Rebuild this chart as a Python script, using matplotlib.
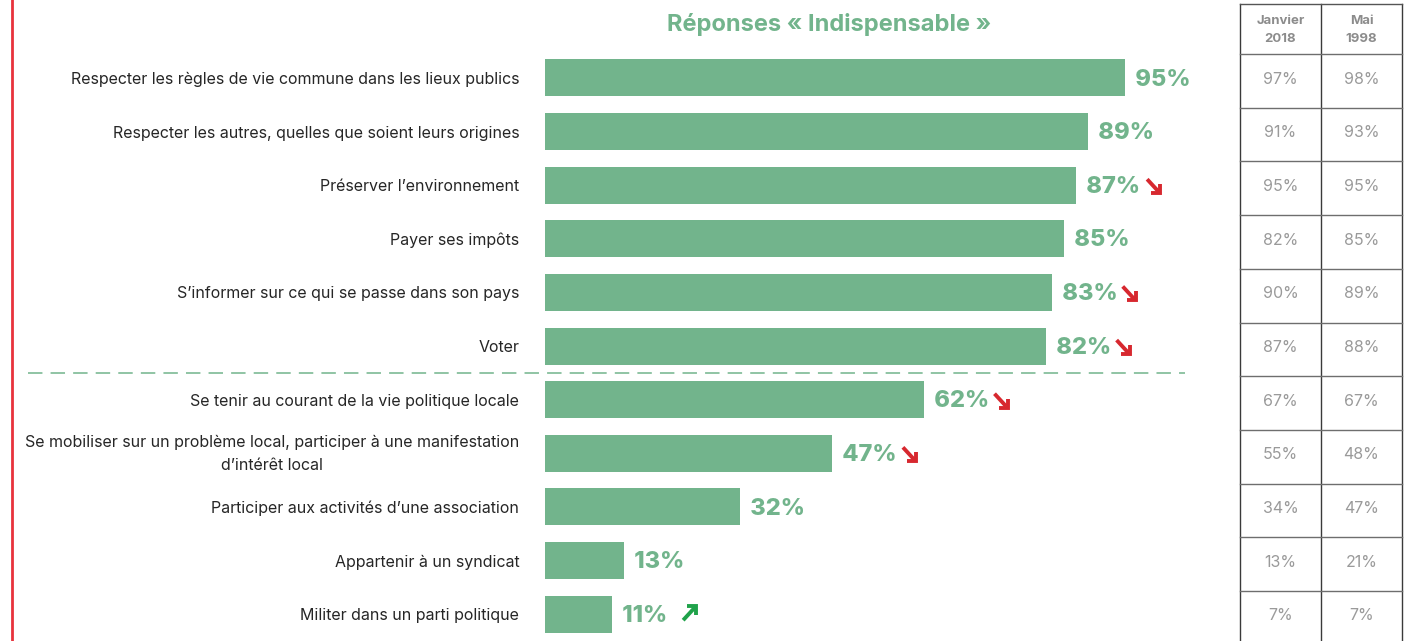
import matplotlib
matplotlib.use('Agg')
from matplotlib import pyplot as plt
from matplotlib import transforms
import numpy as np

plt.rcParams['font.family'] = ['Inter', 'DejaVu Sans']

# chart data
categories = [
    "Respecter les règles de vie commune dans les lieux publics",
    "Respecter les autres, quelles que soient leurs origines",
    "Préserver l\u2019environnement",
    "Payer ses impôts",
    "S\u2019informer sur ce qui se passe dans son pays",
    "Voter",
    "Se tenir au courant de la vie politique locale",
    "Se mobiliser sur un problème local, participer à une manifestation\nd\u2019intérêt local",
    "Participer aux activités d\u2019une association",
    "Appartenir à un syndicat",
    "Militer dans un parti politique",
]
values = [95, 89, 87, 85, 83, 82, 62, 47, 32, 13, 11]
trend = [0, 0, -1, 0, -1, -1, -1, -1, 0, 0, 1]   # -1 down, 1 up
jan_2018 = [97, 91, 95, 82, 90, 87, 67, 55, 34, 13, 7]
mai_1998 = [98, 93, 95, 85, 89, 88, 67, 48, 47, 21, 7]
col_headers = ["Janvier\n2018", "Mai\n1998"]
title = "Réponses « Indispensable »"

GREEN = '#72b48c'
RED = '#d7282f'
UP_GREEN = '#1fa24a'
W, H = 1414, 641

fig = plt.figure(figsize=(W / 100, H / 100), dpi=100)

# bar axes: left edge at 545 px, 100 % = 610.5 px, rows 53.7 px apart
row_h = 53.7
top_px = 78 - row_h / 2
ax = fig.add_axes([545 / W, 0, 610.5 / W, (H - top_px) / H])
n = len(values)
y = np.arange(n)
ax.barh(y, values, height=0.69, color=GREEN)
ax.set_xlim(0, 100)
ax.set_ylim(n - 0.5, -0.5)
ax.set_yticks(y)
ax.set_yticklabels(categories, fontsize=11.5, color='#262626',
                   multialignment='center', linespacing=1.7)
ax.tick_params(axis='y', length=0, pad=18.5)
ax.set_xticks([])
for s in ax.spines.values():
    s.set_visible(False)
# the two-line label sits a little high in the original
lab = ax.get_yticklabels()[7]
lab.set_transform(lab.get_transform() +
                  transforms.ScaledTranslation(0, 3.5 / 72, fig.dpi_scale_trans))

to_fig = fig.transFigure.inverted()


def arrow(px, py, up, col):
    # px, py: display coords of the bar end; bold diagonal arrow with a
    # square corner head, like the trend glyphs of the original
    if up:
        x0, y0, x1, y1 = px + 71, py - 6, px + 84, py + 8
        head = [(x1 - 9, y1), (x1, y1), (x1, y1 - 9)]
        tip = (x1 - 1.5, y1 - 1.5)
    else:
        x0, y0, x1, y1 = px + 71, py + 6, px + 84, py - 8
        head = [(x1 - 9, y1), (x1, y1), (x1, y1 + 9)]
        tip = (x1 - 1.5, y1 + 1.5)
    shaft = to_fig.transform([(x0, y0), tip])
    hd = to_fig.transform(head)
    fig.add_artist(plt.Line2D(shaft[:, 0], shaft[:, 1], color=col, lw=2.8,
                              solid_capstyle='butt'))
    fig.add_artist(plt.Line2D(hd[:, 0], hd[:, 1], color=col, lw=2.8,
                              solid_capstyle='butt', solid_joinstyle='miter'))


for i, v in enumerate(values):
    ax.text(v, i + 0.03, f"  {v}%", va='center', ha='left', fontsize=17,
            fontweight='heavy', color=GREEN, clip_on=False)
    if trend[i] != 0:
        px, py = ax.transData.transform((v, i))
        arrow(px, py, trend[i] > 0, RED if trend[i] < 0 else UP_GREEN)

# separator between the two groups
fig.add_artist(plt.Line2D([28 / W, 1185 / W], [1 - 373 / H] * 2, color=GREEN,
                          lw=1.3, linestyle=(0, (8, 4.5)), alpha=0.85))

fig.text(829 / W, 1 - 24 / H, title, ha='center', va='center', fontsize=17,
         fontweight='bold', color=GREEN)

# red rule on the left
fig.add_artist(plt.Line2D([12 / W] * 2, [0, 1], color='#e8323c', lw=2))

# comparison table
xs = [1240, 1321, 1402]
tab_top = 4
head_bot = 54
for xv in xs:
    fig.add_artist(plt.Line2D([xv / W] * 2, [0, 1 - tab_top / H], color='#3a3a3a', lw=1))
fig.add_artist(plt.Line2D([xs[0] / W, xs[-1] / W], [1 - tab_top / H] * 2, color='#555555', lw=1))
for k in range(n + 1):
    yy = head_bot + k * row_h
    if yy < H:
        fig.add_artist(plt.Line2D([xs[0] / W, xs[-1] / W], [1 - yy / H] * 2,
                                  color='#6e6e6e', lw=1))
cx = [(xs[0] + xs[1]) / 2, (xs[1] + xs[2]) / 2]
for c, hdr in enumerate(col_headers):
    fig.text(cx[c] / W, 1 - 30 / H, hdr, ha='center', va='center', fontsize=9.5,
             fontweight='bold', color='#8c8c8c', linespacing=1.65)
for i in range(n):
    yc = 1 - (79 + i * row_h) / H
    fig.text(cx[0] / W, yc, f"{jan_2018[i]}%", ha='center', va='center',
             fontsize=11.5, color='#9a9a9a')
    fig.text(cx[1] / W, yc, f"{mai_1998[i]}%", ha='center', va='center',
             fontsize=11.5, color='#9a9a9a')

fig.savefig('out.png', dpi=100)
